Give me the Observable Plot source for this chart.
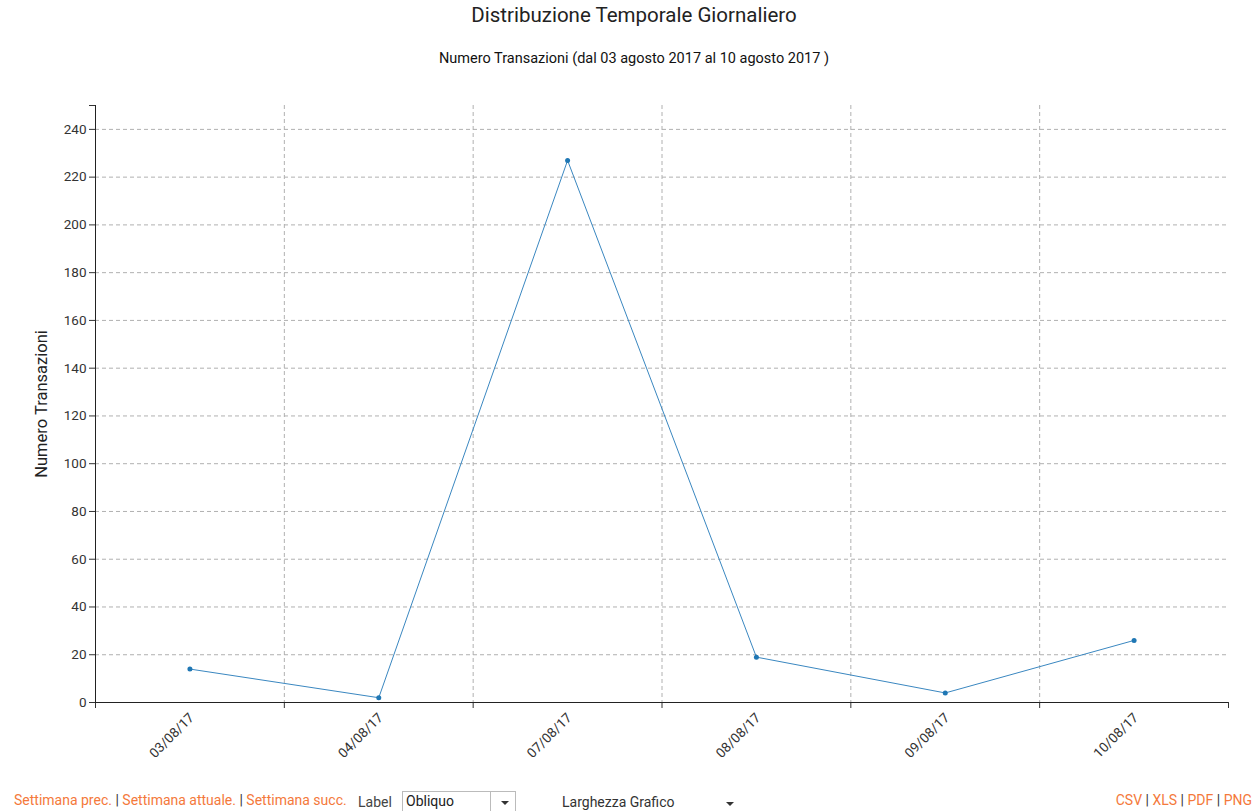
<!DOCTYPE html>
<html>
<head>
<meta charset="utf-8">
<script src="https://cdn.jsdelivr.net/npm/d3@7"></script>
<script src="https://cdn.jsdelivr.net/npm/@observablehq/plot@0.6"></script>
<style>
  html, body { margin: 0; padding: 0; background: #fff; width: 1260px; height: 811px; overflow: hidden; font-family: Roboto, "Open Sans", sans-serif; }
  #title { position: absolute; left: 0; width: 1268px; top: 3px; text-align: center; font-size: 20.5px; color: #222; }
  #subtitle { position: absolute; left: 0; width: 1268px; top: 50px; text-align: center; font-size: 14.5px; color: #111; }
  #chart { position: absolute; left: 0; top: 80px; }
  #controls { position: absolute; left: 0; top: 790px; width: 1260px; height: 24px; font-size: 14px; }
  .orange { color: #f4793b; }
  .sep { color: #333; }
  #nav { position: absolute; left: 14px; top: 2px; white-space: nowrap; }
  #labelTxt { position: absolute; left: 358px; top: 4px; color: #444; }
  #sel { position: absolute; left: 402px; top: 1px; width: 114px; height: 24px; border: 1px solid #bbb; box-sizing: border-box; }
  #sel span { position: absolute; left: 3px; top: 1px; color: #222; }
  #sel .btn { position: absolute; left: 87px; top: 0; width: 1px; height: 24px; background: #bbb; }
  .arrow { position: absolute; width: 0; height: 0; border-left: 4px solid transparent; border-right: 4px solid transparent; border-top: 4px solid #333; }
  #larg { position: absolute; left: 562px; top: 4px; color: #333; }
  #export { position: absolute; right: 8px; top: 2px; white-space: nowrap; }
</style>
</head>
<body>
<div id="title">Distribuzione Temporale Giornaliero</div>
<div id="subtitle">Numero Transazioni (dal 03 agosto 2017 al 10 agosto 2017 )</div>
<div id="chart"></div>
<div id="controls">
  <div id="nav"><span class="orange">Settimana prec.</span> <span class="sep">|</span> <span class="orange">Settimana attuale.</span> <span class="sep">|</span> <span class="orange">Settimana succ.</span></div>
  <div id="labelTxt">Label</div>
  <div id="sel"><span>Obliquo</span><div class="btn"></div><div class="arrow" style="left:98px;top:9px;"></div></div>
  <div id="larg">Larghezza Grafico</div>
  <div class="arrow" style="left:726px;top:12px;"></div>
  <div id="export"><span class="orange">CSV</span> <span class="sep">|</span> <span class="orange">XLS</span> <span class="sep">|</span> <span class="orange">PDF</span> <span class="sep">|</span> <span class="orange">PNG</span></div>
</div>
<script>
const dates = ["03/08/17", "04/08/17", "07/08/17", "08/08/17", "09/08/17", "10/08/17"];
const transazioni = [14, 2, 227, 19, 4, 26];
const yTicks = [0, 20, 40, 60, 80, 100, 120, 140, 160, 180, 200, 220, 240];
const yMax = 250;

const data = dates.map((d, i) => ({i, date: d, value: transazioni[i]}));
const edges = d3.range(dates.length + 1).map(k => k - 0.5);
const innerEdges = edges.slice(1, -1);
const gridColor = "#b0b0b0";

const chart = Plot.plot({
  width: 1260,
  height: 700,
  marginLeft: 95,
  marginRight: 32,
  marginTop: 25,
  marginBottom: 78,
  style: {fontFamily: "Roboto, sans-serif", fontSize: "13.5px", color: "#333", background: "white"},
  x: {type: "linear", domain: [edges[0], edges[edges.length - 1]], ticks: edges, tickFormat: () => "", tickSize: 6, label: null},
  y: {domain: [0, yMax], ticks: [...yTicks, yMax], tickFormat: d => d === yMax ? "" : d, tickSize: 6, label: null},
  marks: [
    Plot.ruleY(yTicks.filter(d => d > 0), {stroke: gridColor, strokeDasharray: "4,3"}),
    Plot.ruleX(innerEdges, {stroke: gridColor, strokeDasharray: "4,3"}),
    Plot.ruleX([edges[0]], {stroke: "#222"}),
    Plot.ruleY([0], {stroke: "#222"}),
    Plot.line(data, {x: "i", y: "value", stroke: "#3a87c0", strokeWidth: 1}),
    Plot.dot(data, {x: "i", y: "value", r: 2.5, fill: "#1f77b4"}),
    Plot.text(data, {x: "i", y: 0, text: "date", rotate: -45, textAnchor: "end", dx: 2, dy: 13, fontSize: 13.5, fill: "#333"}),
    Plot.text(["Numero Transazioni"], {frameAnchor: "left", textAnchor: "middle", rotate: -90, dx: -54, fontSize: 16.5, fill: "#222"})
  ]
});
document.getElementById("chart").appendChild(chart);
</script>
</body>
</html>
